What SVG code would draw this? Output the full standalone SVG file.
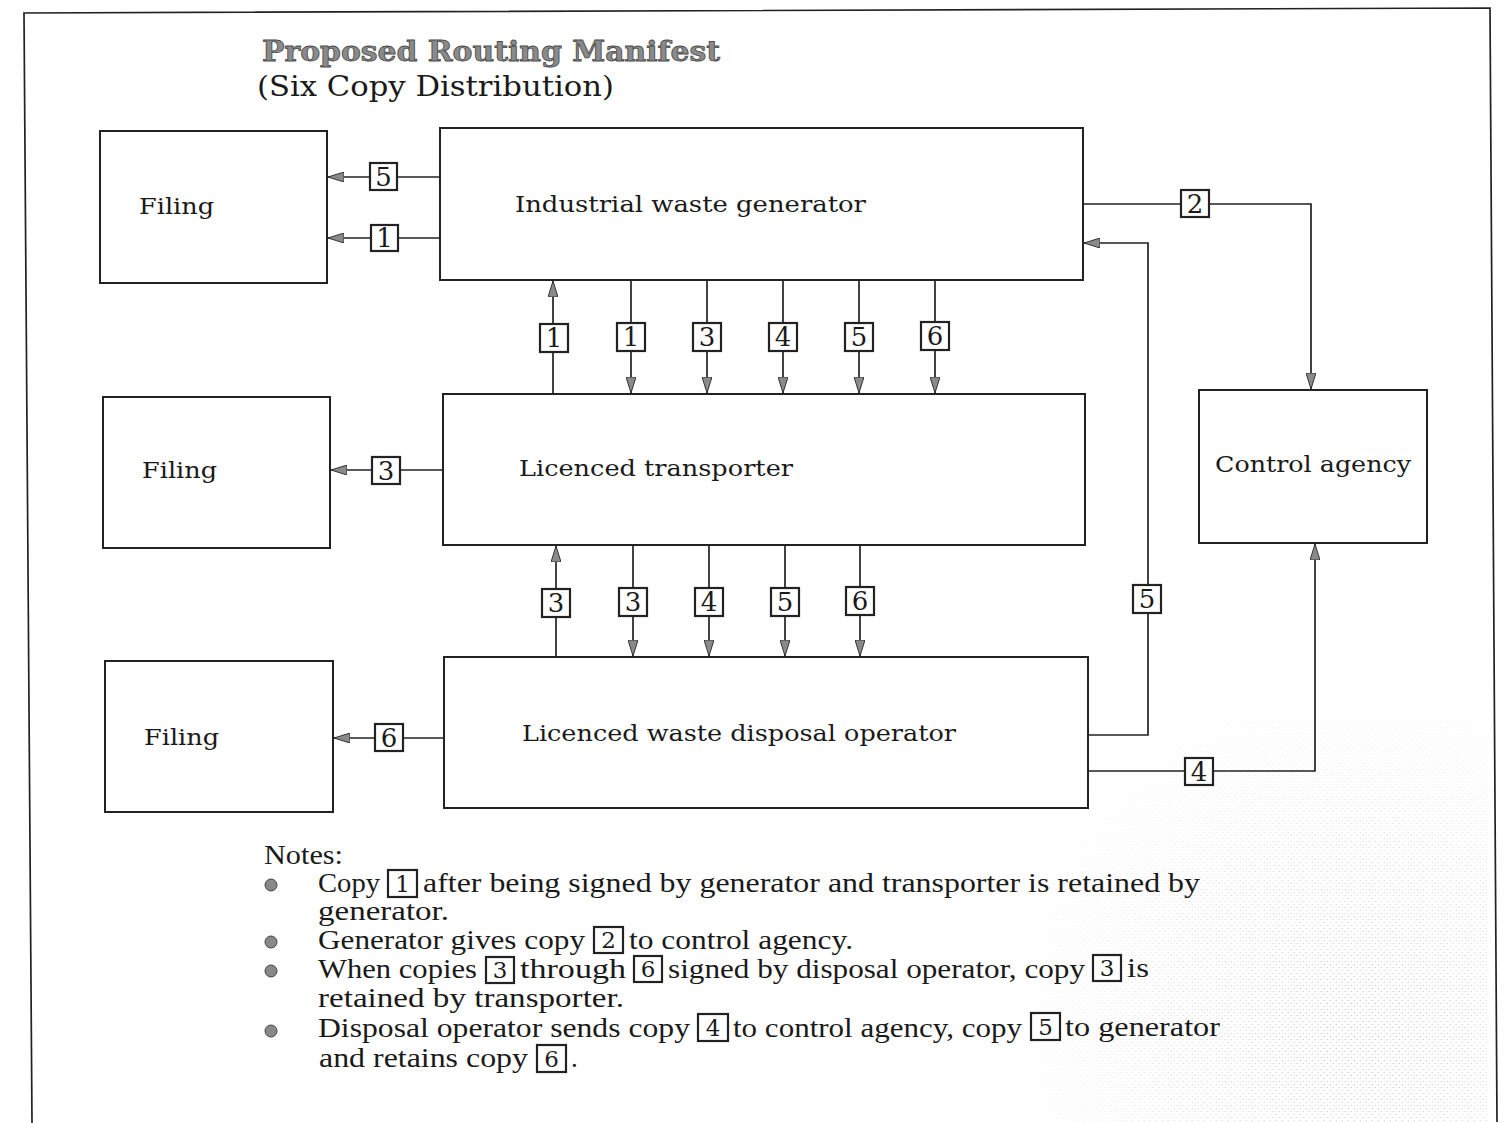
<svg xmlns="http://www.w3.org/2000/svg" width="1507" height="1123" viewBox="0 0 1507 1123">
<style>
.box{fill:#fff;stroke:#222;stroke-width:2}
.lbl{fill:#fff;stroke:#222;stroke-width:2.2}
.ln{fill:none;stroke:#222;stroke-width:1.7}
.nt{font-family:"DejaVu Serif","Liberation Serif",serif;font-size:23px;fill:#1a1a1a}
.dg{font-family:"DejaVu Serif","Liberation Serif",serif;font-size:26px;fill:#1a1a1a;text-anchor:middle}
.note{font-family:"Liberation Serif","DejaVu Serif",serif;font-size:27px;fill:#1a1a1a}
.ndg{font-family:"DejaVu Serif","Liberation Serif",serif;font-size:23px;fill:#1a1a1a;text-anchor:middle}
.bul{fill:#888;stroke:#444;stroke-width:1}
</style>
<defs>
<marker id="ah" viewBox="0 0 16 10" refX="16" refY="5" markerWidth="16" markerHeight="10" markerUnits="userSpaceOnUse" orient="auto">
<path d="M0,0 L16,5 L0,10 z" fill="#8a8a8a" stroke="#333" stroke-width="1"/>
</marker>
<pattern id="dots" width="6" height="6" patternUnits="userSpaceOnUse">
<circle cx="1.3" cy="1.5" r="0.6" fill="#9a9a9a"/>
<circle cx="4.2" cy="4.4" r="0.55" fill="#a8a8a8"/>
<circle cx="4.5" cy="1.2" r="0.4" fill="#b5b5b5"/>
</pattern>
<radialGradient id="fade" cx="1360" cy="1030" r="360" gradientUnits="userSpaceOnUse">
<stop offset="0" stop-color="#fff" stop-opacity="0.75"/>
<stop offset="0.55" stop-color="#fff" stop-opacity="0.45"/>
<stop offset="1" stop-color="#fff" stop-opacity="0"/>
</radialGradient>
<mask id="stipmask" maskUnits="userSpaceOnUse" x="0" y="0" width="1507" height="1123">
<rect x="1000" y="680" width="490" height="443" fill="url(#fade)"/>
</mask>
</defs>

<rect x="0" y="0" width="1507" height="1123" fill="#fff"/>
<rect x="1040" y="720" width="448" height="402" fill="url(#dots)" mask="url(#stipmask)"/>

<path d="M32,1123 L24,13 L1490,8 L1497,1122" fill="none" stroke="#222" stroke-width="1.7"/>

<g id="title">
<text x="262" y="61" font-family="DejaVu Serif,Liberation Serif,serif" font-weight="bold" font-size="28" fill="#8a8a8a" stroke="#4a4a4a" stroke-width="0.8" textLength="458" lengthAdjust="spacingAndGlyphs">Proposed Routing Manifest</text>
<text x="257" y="96" font-family="DejaVu Serif,Liberation Serif,serif" font-size="28" fill="#1a1a1a" textLength="357" lengthAdjust="spacingAndGlyphs">(Six Copy Distribution)</text>
</g>

<g id="filing1"><rect class="box" x="100" y="131" width="227" height="152"/><text class="nt" x="139" y="214" textLength="75" lengthAdjust="spacingAndGlyphs">Filing</text></g>
<g id="generator"><rect class="box" x="440" y="128" width="643" height="152"/><text class="nt" x="515" y="212" textLength="351" lengthAdjust="spacingAndGlyphs">Industrial waste generator</text></g>
<g id="filing2"><rect class="box" x="103" y="397" width="227" height="151"/><text class="nt" x="142" y="478" textLength="75" lengthAdjust="spacingAndGlyphs">Filing</text></g>
<g id="transporter"><rect class="box" x="443" y="394" width="642" height="151"/><text class="nt" x="519" y="476" textLength="274" lengthAdjust="spacingAndGlyphs">Licenced transporter</text></g>
<g id="control"><rect class="box" x="1199" y="390" width="228" height="153"/><text class="nt" x="1215" y="472" textLength="196" lengthAdjust="spacingAndGlyphs">Control agency</text></g>
<g id="filing3"><rect class="box" x="105" y="661" width="228" height="151"/><text class="nt" x="144" y="745" textLength="75" lengthAdjust="spacingAndGlyphs">Filing</text></g>
<g id="disposal"><rect class="box" x="444" y="657" width="644" height="151"/><text class="nt" x="522" y="741" textLength="434" lengthAdjust="spacingAndGlyphs">Licenced waste disposal operator</text></g>

<g id="connectors">
<line class="ln" x1="440" y1="177" x2="328" y2="177" marker-end="url(#ah)"/>
<line class="ln" x1="440" y1="238" x2="328" y2="238" marker-end="url(#ah)"/>
<line class="ln" x1="443" y1="470" x2="331" y2="470" marker-end="url(#ah)"/>
<line class="ln" x1="444" y1="738" x2="334" y2="738" marker-end="url(#ah)"/>
<line class="ln" x1="553" y1="394" x2="553" y2="281" marker-end="url(#ah)"/>
<line class="ln" x1="631" y1="280" x2="631" y2="393" marker-end="url(#ah)"/>
<line class="ln" x1="707" y1="280" x2="707" y2="393" marker-end="url(#ah)"/>
<line class="ln" x1="783" y1="280" x2="783" y2="393" marker-end="url(#ah)"/>
<line class="ln" x1="859" y1="280" x2="859" y2="393" marker-end="url(#ah)"/>
<line class="ln" x1="935" y1="280" x2="935" y2="393" marker-end="url(#ah)"/>
<line class="ln" x1="556" y1="657" x2="556" y2="546" marker-end="url(#ah)"/>
<line class="ln" x1="633" y1="545" x2="633" y2="656" marker-end="url(#ah)"/>
<line class="ln" x1="709" y1="545" x2="709" y2="656" marker-end="url(#ah)"/>
<line class="ln" x1="785" y1="545" x2="785" y2="656" marker-end="url(#ah)"/>
<line class="ln" x1="860" y1="545" x2="860" y2="656" marker-end="url(#ah)"/>
<path class="ln" d="M1083,204 H1311 V389" marker-end="url(#ah)"/>
<path class="ln" d="M1088,735 H1148 V243 H1084" marker-end="url(#ah)"/>
<path class="ln" d="M1088,771 H1315 V544" marker-end="url(#ah)"/>

<g id="labels">
<rect class="lbl" x="370" y="163" width="27" height="27"/><text class="dg" x="383.5" y="186">5</text>
<rect class="lbl" x="371" y="225" width="27" height="26"/><text class="dg" x="384.5" y="247">1</text>
<rect class="lbl" x="372" y="457" width="28" height="27"/><text class="dg" x="386" y="480">3</text>
<rect class="lbl" x="375" y="724" width="28" height="27"/><text class="dg" x="389" y="747">6</text>
<rect class="lbl" x="540" y="324" width="28" height="28"/><text class="dg" x="554" y="347">1</text>
<rect class="lbl" x="617" y="323" width="28" height="28"/><text class="dg" x="631" y="346">1</text>
<rect class="lbl" x="693" y="323" width="28" height="28"/><text class="dg" x="707" y="346">3</text>
<rect class="lbl" x="769" y="323" width="28" height="28"/><text class="dg" x="783" y="346">4</text>
<rect class="lbl" x="845" y="323" width="28" height="28"/><text class="dg" x="859" y="346">5</text>
<rect class="lbl" x="921" y="322" width="28" height="28"/><text class="dg" x="935" y="345">6</text>
<rect class="lbl" x="542" y="589" width="28" height="28"/><text class="dg" x="556" y="612">3</text>
<rect class="lbl" x="619" y="588" width="28" height="28"/><text class="dg" x="633" y="611">3</text>
<rect class="lbl" x="695" y="588" width="28" height="28"/><text class="dg" x="709" y="611">4</text>
<rect class="lbl" x="771" y="588" width="28" height="28"/><text class="dg" x="785" y="611">5</text>
<rect class="lbl" x="846" y="587" width="28" height="28"/><text class="dg" x="860" y="610">6</text>
<rect class="lbl" x="1181" y="190" width="28" height="27"/><text class="dg" x="1195" y="213">2</text>
<rect class="lbl" x="1133" y="585" width="28" height="28"/><text class="dg" x="1147" y="608">5</text>
<rect class="lbl" x="1185" y="758" width="28" height="27"/><text class="dg" x="1199" y="781">4</text>
</g>
</g>

<g id="notes">
<text class="note" x="264" y="864" textLength="79" lengthAdjust="spacingAndGlyphs">Notes:</text>
<circle class="bul" cx="271" cy="885" r="6"/>
<circle class="bul" cx="271" cy="942" r="6"/>
<circle class="bul" cx="271" cy="971" r="6"/>
<circle class="bul" cx="271" cy="1031" r="6"/>

<text class="note" x="318" y="892" textLength="62" lengthAdjust="spacingAndGlyphs">Copy</text>
<rect class="lbl" x="388" y="870" width="29" height="27" stroke-width="1.8"/><text class="ndg" x="402.5" y="892">1</text>
<text class="note" x="423" y="892" textLength="777" lengthAdjust="spacingAndGlyphs">after being signed by generator and transporter is retained by</text>
<text class="note" x="318" y="920" textLength="131" lengthAdjust="spacingAndGlyphs">generator.</text>

<text class="note" x="318" y="949" textLength="267" lengthAdjust="spacingAndGlyphs">Generator gives copy</text>
<rect class="lbl" x="594" y="927" width="29" height="26" stroke-width="1.8"/><text class="ndg" x="608.5" y="948">2</text>
<text class="note" x="629" y="949" textLength="224" lengthAdjust="spacingAndGlyphs">to control agency.</text>

<text class="note" x="318" y="978" textLength="159" lengthAdjust="spacingAndGlyphs">When copies</text>
<rect class="lbl" x="486" y="957" width="28" height="26" stroke-width="1.8"/><text class="ndg" x="500" y="978">3</text>
<text class="note" x="520" y="978" textLength="106" lengthAdjust="spacingAndGlyphs">through</text>
<rect class="lbl" x="634" y="956" width="28" height="26" stroke-width="1.8"/><text class="ndg" x="648" y="977">6</text>
<text class="note" x="668" y="978" textLength="417" lengthAdjust="spacingAndGlyphs">signed by disposal operator, copy</text>
<rect class="lbl" x="1093" y="955" width="28" height="26" stroke-width="1.8"/><text class="ndg" x="1107" y="976">3</text>
<text class="note" x="1127" y="977" textLength="22" lengthAdjust="spacingAndGlyphs">is</text>
<text class="note" x="318" y="1007" textLength="306" lengthAdjust="spacingAndGlyphs">retained by transporter.</text>

<text class="note" x="318" y="1037" textLength="372" lengthAdjust="spacingAndGlyphs">Disposal operator sends copy</text>
<rect class="lbl" x="698" y="1014" width="30" height="27" stroke-width="1.8"/><text class="ndg" x="713" y="1036">4</text>
<text class="note" x="733" y="1037" textLength="289" lengthAdjust="spacingAndGlyphs">to control agency, copy</text>
<rect class="lbl" x="1031" y="1013" width="29" height="27" stroke-width="1.8"/><text class="ndg" x="1045.5" y="1035">5</text>
<text class="note" x="1065" y="1036" textLength="155" lengthAdjust="spacingAndGlyphs">to generator</text>

<text class="note" x="319" y="1067" textLength="209" lengthAdjust="spacingAndGlyphs">and retains copy</text>
<rect class="lbl" x="537" y="1045" width="29" height="27" stroke-width="1.8"/><text class="ndg" x="551.5" y="1067">6</text>
<text class="note" x="571" y="1067">.</text>
</g>
</svg>
